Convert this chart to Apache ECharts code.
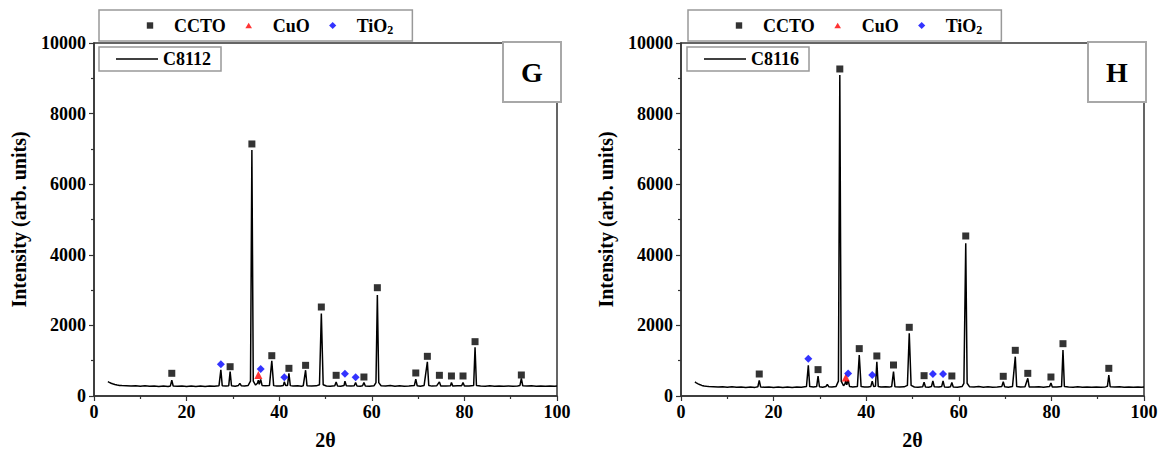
<!DOCTYPE html>
<html><head><meta charset="utf-8">
<script src="https://cdn.jsdelivr.net/npm/echarts@6/dist/echarts.min.js"></script>
<style>html,body{margin:0;padding:0;background:#fff}#c{width:1161px;height:451px}</style>
</head><body><div id="c"></div>
<script>
// ---------- data (2θ, intensity) ----------
const xTicks = [0, 20, 40, 60, 80, 100];
const yTicks = [0, 2000, 4000, 6000, 8000, 10000];

const gPattern = [[3.0,405],[3.3,385],[3.7,360],[4.0,345],[4.5,325],[5.0,312],[5.5,300],[6.0,296],[7.0,290],[8.0,284],[9.0,292],[10.0,278],[11.0,288],[12.0,274],[13.0,286],[14.0,272],[15.0,284],[16.0,270],[16.5,286],[16.8,450],[17.1,284],[18.0,274],[19.0,286],[20.0,272],[21.0,284],[22.0,270],[23.0,282],[24.0,268],[25.0,284],[26.0,274],[27.0,292],[27.4,740],[27.7,290],[28.5,280],[29.1,292],[29.4,690],[29.7,290],[30.5,278],[31.2,300],[31.5,360],[31.8,292],[32.5,284],[33.3,300],[33.8,420],[34.1,6970],[34.4,420],[34.9,310],[35.3,360],[35.5,450],[35.7,330],[36.0,470],[36.3,300],[37.0,288],[37.9,300],[38.4,1000],[38.8,294],[39.5,282],[40.3,286],[40.9,300],[41.1,400],[41.4,300],[41.8,300],[42.1,640],[42.4,294],[43.0,282],[44.0,290],[44.8,278],[45.2,292],[45.7,730],[46.0,290],[47.0,280],[48.0,288],[48.7,320],[49.1,2340],[49.5,320],[50.2,284],[51.0,276],[52.0,290],[52.3,400],[52.6,284],[53.3,278],[54.0,296],[54.2,420],[54.5,290],[55.5,280],[56.2,292],[56.5,380],[56.8,284],[57.5,278],[58.0,292],[58.3,380],[58.6,284],[59.5,278],[60.5,292],[60.9,380],[61.2,2860],[61.5,380],[62.0,292],[63.0,280],[64.0,296],[65.0,278],[66.0,288],[67.0,276],[68.0,286],[69.2,300],[69.5,480],[69.8,290],[70.5,278],[71.3,300],[72.0,970],[72.3,300],[73.0,280],[74.0,288],[74.6,400],[74.9,284],[76.0,280],[77.0,292],[77.2,380],[77.5,280],[78.5,288],[79.4,292],[79.7,380],[80.0,284],[81.0,280],[82.0,300],[82.3,1380],[82.6,300],[83.5,282],[84.5,278],[85.5,288],[86.5,278],[87.5,286],[88.5,276],[89.5,286],[90.5,278],[91.5,286],[92.0,300],[92.3,500],[92.6,290],[93.5,280],[94.5,288],[95.5,276],[96.5,286],[97.5,276],[98.5,284],[99.5,276],[100.0,280]];
const gCCTO = [[16.8,643],[29.4,830],[34.1,7140],[38.4,1142],[42.1,784],[45.7,869],[49.1,2521],[52.3,586],[58.3,538],[61.2,3068],[69.5,652],[72.0,1124],[74.6,586],[77.2,567],[79.7,567],[82.3,1539],[92.3,595]];
const gCuO = [[35.5,595]];
const gTiO2 = [[27.4,898],[36.0,765],[41.1,530],[54.2,633],[56.5,530]];

const hPattern = [[3.0,397],[3.3,372],[3.7,345],[4.0,325],[4.5,300],[5.0,285],[5.5,274],[6.0,268],[7.0,262],[8.0,256],[9.0,264],[10.0,250],[11.0,260],[12.0,246],[13.0,258],[14.0,244],[15.0,256],[16.0,244],[16.6,262],[16.9,444],[17.2,258],[18.0,246],[19.0,258],[20.0,244],[21.0,256],[22.0,242],[23.0,254],[24.0,242],[25.0,256],[26.0,248],[27.1,268],[27.5,869],[27.8,266],[28.6,252],[29.3,266],[29.6,566],[29.9,262],[30.6,250],[31.3,270],[31.6,330],[31.9,264],[32.6,256],[33.5,272],[34.0,420],[34.3,9094],[34.6,420],[35.1,290],[35.4,340],[35.6,430],[35.8,320],[36.1,450],[36.4,272],[37.1,258],[38.1,272],[38.5,1160],[38.9,266],[39.6,254],[40.4,258],[41.0,272],[41.3,420],[41.6,272],[42.0,276],[42.3,972],[42.6,266],[43.2,254],[44.2,262],[45.0,252],[45.5,268],[45.9,690],[46.2,262],[47.2,252],[48.2,260],[48.9,300],[49.3,1775],[49.7,300],[50.4,256],[51.2,248],[52.2,262],[52.5,390],[52.8,256],[53.5,250],[54.1,268],[54.4,430],[54.7,262],[55.7,252],[56.3,266],[56.6,430],[56.9,258],[57.7,250],[58.2,264],[58.5,380],[58.8,256],[59.7,250],[60.7,266],[61.1,360],[61.5,4325],[61.8,360],[62.3,264],[63.3,252],[64.3,268],[65.3,250],[66.3,260],[67.3,248],[68.3,258],[69.3,272],[69.6,405],[69.9,262],[70.7,250],[71.6,272],[72.2,1114],[72.5,272],[73.3,252],[74.3,262],[74.9,500],[75.2,256],[76.3,252],[77.3,264],[78.3,250],[79.6,266],[79.9,370],[80.2,256],[81.2,252],[82.2,272],[82.5,1303],[82.8,272],[83.7,254],[84.7,250],[85.7,260],[86.7,250],[87.7,258],[88.7,248],[89.7,258],[90.7,250],[91.7,258],[92.1,274],[92.4,595],[92.7,262],[93.7,252],[94.7,260],[95.7,248],[96.7,258],[97.7,248],[98.7,256],[99.5,248],[100.0,252]];
const hCCTO = [[16.9,623],[29.6,747],[34.3,9264],[38.5,1342],[42.3,1134],[45.9,878],[49.3,1946],[52.5,576],[58.5,567],[61.5,4533],[69.6,558],[72.2,1294],[74.9,642],[79.9,538],[82.5,1482],[92.4,784]];
const hCuO = [[35.6,521]];
const hTiO2 = [[27.5,1058],[36.1,634],[41.3,595],[54.4,623],[56.6,623]];

const panelLabels = ['G', 'H'];
const sampleNames = ['C8112', 'C8116'];
const phaseNames = ['CCTO', 'CuO', 'TiO2'];

// ---------- styles ----------
const FONT = 'Liberation Serif';
const txt = (size) => ({ fontFamily: FONT, fontWeight: 'bold', fontSize: size, color: '#000' });

const grids = [
  { left: 94, top: 43, width: 463, height: 353 },
  { left: 681, top: 43, width: 463, height: 353 }
];

function xAx(i) {
  return {
    type: 'value', gridIndex: i, min: xTicks[0], max: xTicks[xTicks.length - 1], interval: xTicks[1] - xTicks[0],
    name: '2θ', nameLocation: 'middle', nameGap: 34, nameTextStyle: Object.assign({ lineHeight: 20 }, txt(20)),
    axisLine: { show: true, onZero: false, lineStyle: { color: '#333', width: 1.5 } },
    axisTick: { show: true, inside: false, length: 5, lineStyle: { color: '#333', width: 1.2 } },
    minorTick: { show: true, splitNumber: 2, length: 3, lineStyle: { color: '#333', width: 1.2 } },
    splitLine: { show: false },
    axisLabel: Object.assign({ margin: 7, formatter: (v) => String(v) }, txt(18))
  };
}
function yAx(i) {
  return {
    type: 'value', gridIndex: i, min: yTicks[0], max: yTicks[yTicks.length - 1], interval: yTicks[1] - yTicks[0],
    name: 'Intensity (arb. units)', nameLocation: 'middle', nameGap: 65, nameTextStyle: txt(20),
    axisLine: { show: true, onZero: false, lineStyle: { color: '#333', width: 1.5 } },
    axisTick: { show: true, inside: false, length: 5, lineStyle: { color: '#333', width: 1.2 } },
    minorTick: { show: true, splitNumber: 2, length: 3, lineStyle: { color: '#333', width: 1.2 } },
    splitLine: { show: false },
    axisLabel: Object.assign({ margin: 8, formatter: (v) => String(v) }, txt(18))
  };
}

const richTxt = Object.assign({}, txt(18), {
  lineHeight: 18,
  rich: {
    n: Object.assign({}, txt(18), { lineHeight: 18 }),
    sub: Object.assign({}, txt(12), { lineHeight: 18, padding: [9, 0, 0, 0] })
  }
});
const fmt = (name) => name === 'TiO2' ? '{n|TiO}{sub|2}' : '{n|' + name + '}';

// legend icons: the shape sits in the middle of a 38x7 box (end points fix the box)
const iconBox = 'M0,3.5L0,3.5M38,3.5L38,3.5';
const phaseIcons = {
  CCTO: 'path://' + iconBox + 'M15.8,0.3L22.2,0.3L22.2,6.7L15.8,6.7Z',
  CuO: 'path://' + iconBox + 'M19,0.8L22.3,6.4L15.7,6.4Z',
  TiO2: 'path://' + iconBox + 'M19,0L22.6,3.5L19,7L15.4,3.5Z'
};

function phaseLegend(left) {
  return {
    data: phaseNames.map(n => ({ name: n, icon: phaseIcons[n] })), left: left, top: 10, orient: 'horizontal',
    itemWidth: 38, itemHeight: 7, itemGap: 4,
    padding: [5, 19, 5, 32], borderColor: '#999', borderWidth: 1.5, backgroundColor: '#fff',
    formatter: fmt, textStyle: richTxt, selectedMode: false
  };
}
function sampleLegend(left, name) {
  return {
    data: [{ name: name, icon: 'rect' }], left: left, top: 47,
    itemWidth: 42, itemHeight: 1.5, itemGap: 5,
    padding: [3, 10, 3, 17], borderColor: '#999', borderWidth: 1.5, backgroundColor: '#fff',
    textStyle: Object.assign({ lineHeight: 18 }, txt(18)), selectedMode: false
  };
}
function panelTitle(left, text) {
  return {
    text: text, left: left, top: 42,
    padding: [16, 18, 16, 18],
    borderColor: '#a8a8a8', borderWidth: 2, backgroundColor: '#fff',
    textStyle: txt(28)
  };
}

function seriesFor(i, pattern, ccto, cuo, tio2, sName) {
  return [
    { name: sName, type: 'line', xAxisIndex: i, yAxisIndex: i, data: pattern, symbol: 'none',
      lineStyle: { color: '#000', width: 1.5 }, itemStyle: { color: '#000' }, z: 2, animation: false },
    { name: 'CCTO', type: 'scatter', xAxisIndex: i, yAxisIndex: i, data: ccto, symbol: 'rect', symbolSize: 7,
      itemStyle: { color: '#000' }, z: 3, animation: false },
    { name: 'CuO', type: 'scatter', xAxisIndex: i, yAxisIndex: i, data: cuo, symbol: 'triangle', symbolSize: 8,
      itemStyle: { color: '#ff0000' }, z: 3, animation: false },
    { name: 'TiO2', type: 'scatter', xAxisIndex: i, yAxisIndex: i, data: tio2, symbol: 'diamond', symbolSize: 8,
      itemStyle: { color: '#0000ff' }, z: 3, animation: false }
  ];
}

const option = {
  backgroundColor: '#fff',
  animation: false,
  grid: grids.map(g => Object.assign({ show: true, borderColor: '#333', borderWidth: 1.5, backgroundColor: 'transparent', containLabel: false, outerBoundsMode: 'none' }, g)),
  xAxis: [xAx(0), xAx(1)],
  yAxis: [yAx(0), yAx(1)],
  title: [panelTitle(503, panelLabels[0]), panelTitle(1088, panelLabels[1])],
  legend: [phaseLegend(99), sampleLegend(99, sampleNames[0]), phaseLegend(688), sampleLegend(687, sampleNames[1])],
  series: [].concat(
    seriesFor(0, gPattern, gCCTO, gCuO, gTiO2, sampleNames[0]),
    seriesFor(1, hPattern, hCCTO, hCuO, hTiO2, sampleNames[1])
  )
};

const chart = echarts.init(document.getElementById('c'), null, { renderer: 'svg' });
chart.setOption(option);
</script>
</body></html>
